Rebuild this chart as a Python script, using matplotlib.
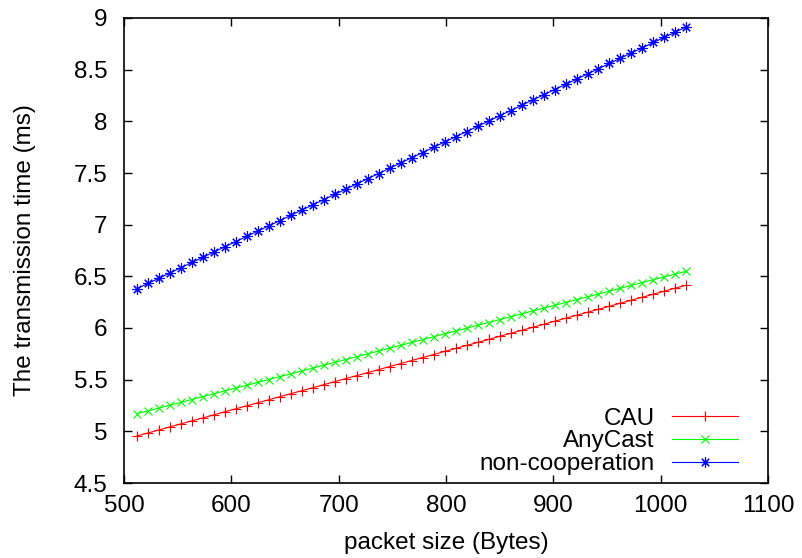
import matplotlib
matplotlib.use("Agg")
import matplotlib.pyplot as plt

plt.rcParams['font.family'] = ['Liberation Sans', 'DejaVu Sans']

packet_size = [512.00, 522.24, 532.48, 542.72, 552.96, 563.20, 573.44, 583.68, 593.92, 604.16,
               614.40, 624.64, 634.88, 645.12, 655.36, 665.60, 675.84, 686.08, 696.32, 706.56,
               716.80, 727.04, 737.28, 747.52, 757.76, 768.00, 778.24, 788.48, 798.72, 808.96,
               819.20, 829.44, 839.68, 849.92, 860.16, 870.40, 880.64, 890.88, 901.12, 911.36,
               921.60, 931.84, 942.08, 952.32, 962.56, 972.80, 983.04, 993.28, 1003.52, 1013.76,
               1024.00]

cau = [4.955, 4.984, 5.013, 5.043, 5.072, 5.101, 5.130, 5.159, 5.189, 5.218,
       5.247, 5.276, 5.305, 5.335, 5.364, 5.393, 5.422, 5.451, 5.481, 5.510,
       5.539, 5.568, 5.597, 5.627, 5.656, 5.685, 5.714, 5.743, 5.773, 5.802,
       5.831, 5.860, 5.889, 5.919, 5.948, 5.977, 6.006, 6.035, 6.065, 6.094,
       6.123, 6.152, 6.181, 6.211, 6.240, 6.269, 6.298, 6.327, 6.357, 6.386,
       6.415]

anycast = [5.170, 5.198, 5.225, 5.253, 5.280, 5.308, 5.336, 5.363, 5.391, 5.418,
           5.446, 5.474, 5.501, 5.529, 5.556, 5.584, 5.612, 5.639, 5.667, 5.694,
           5.722, 5.750, 5.777, 5.805, 5.832, 5.860, 5.888, 5.915, 5.943, 5.970,
           5.998, 6.026, 6.053, 6.081, 6.108, 6.136, 6.164, 6.191, 6.219, 6.246,
           6.274, 6.302, 6.329, 6.357, 6.384, 6.412, 6.440, 6.467, 6.495, 6.522,
           6.550]

noncoop = [6.380, 6.431, 6.481, 6.532, 6.583, 6.634, 6.684, 6.735, 6.786, 6.836,
           6.887, 6.938, 6.988, 7.039, 7.090, 7.141, 7.191, 7.242, 7.293, 7.343,
           7.394, 7.445, 7.495, 7.546, 7.597, 7.648, 7.698, 7.749, 7.800, 7.850,
           7.901, 7.952, 8.002, 8.053, 8.104, 8.155, 8.205, 8.256, 8.307, 8.357,
           8.408, 8.459, 8.509, 8.560, 8.611, 8.662, 8.712, 8.763, 8.814, 8.864,
           8.915]

xticks = [500, 600, 700, 800, 900, 1000, 1100]
yticks = [4.5, 5, 5.5, 6, 6.5, 7, 7.5, 8, 8.5, 9]
ytick_labels = ['4.5', '5', '5.5', '6', '6.5', '7', '7.5', '8', '8.5', '9']

FS = 17.5

fig = plt.figure(figsize=(8.02, 5.58), dpi=100)
ax = fig.add_axes([124/802, 1-483/558, (768-124)/802, (483-18)/558])

ax.plot(packet_size, cau, color='#ff0000', lw=0.8, marker='+', ms=7.5, mew=0.8, label='CAU')
ax.plot(packet_size, anycast, color='#00ff00', lw=0.8, marker='x', ms=6, mew=0.8, label='AnyCast')
ax.plot(packet_size, noncoop, color='#0000ff', lw=0.8, marker=(8, 2, 0), ms=7.5, mew=0.8,
        label='non-cooperation')

ax.set_xlim(500, 1100)
ax.set_ylim(4.5, 9)
ax.set_xticks(xticks)
ax.set_yticks(yticks)
ax.set_yticklabels(ytick_labels)
ax.tick_params(direction='in', length=6, width=1, top=True, right=True, labelsize=FS)
ax.tick_params(axis='y', pad=12)
ax.tick_params(axis='x', pad=9)
for s in ax.spines.values():
    s.set_linewidth(1.2)
    s.set_color('black')

ax.set_xlabel('packet size (Bytes)', fontsize=FS)
ax.set_ylabel('The transmission time (ms)', fontsize=FS)
ax.yaxis.set_label_coords(-0.137, 0.5)
ax.xaxis.set_label_coords(0.5, -0.105)

ax.legend(loc='lower right', bbox_to_anchor=(0.953, 0.017), frameon=False, fontsize=FS,
          markerfirst=False, handlelength=2.72, handletextpad=0.7, labelspacing=0.03,
          borderpad=0, borderaxespad=0)

fig.savefig('out.png', dpi=100)
